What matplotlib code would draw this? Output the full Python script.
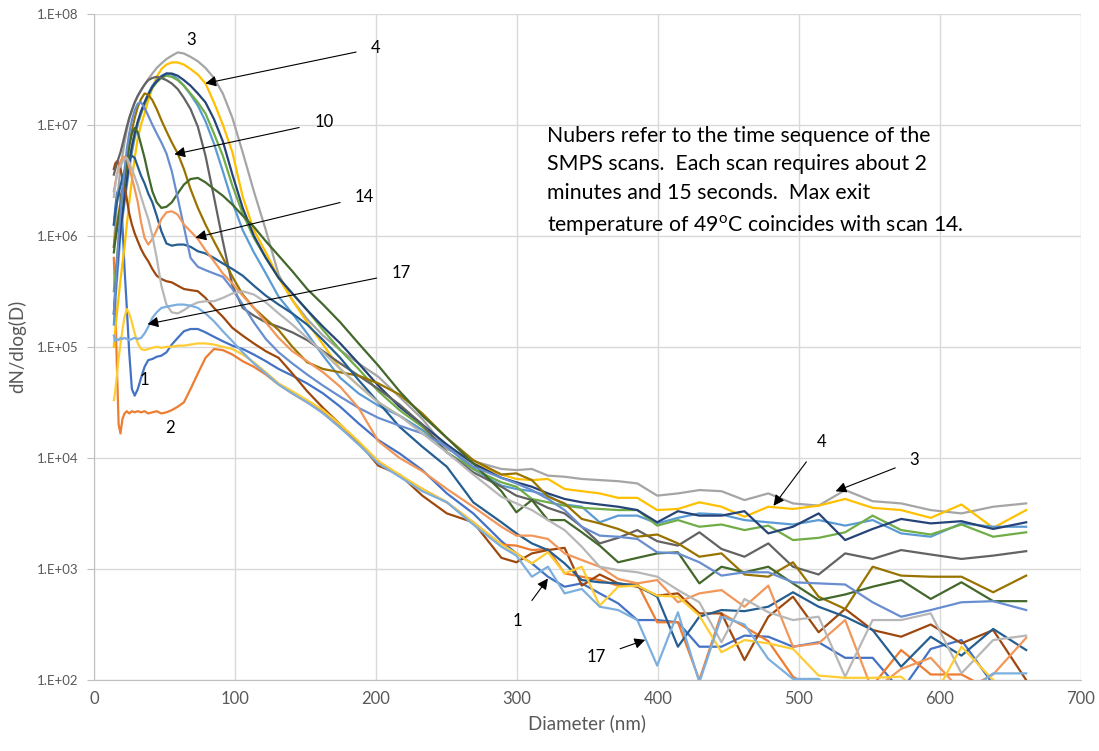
import numpy as np
import matplotlib
matplotlib.use('Agg')
import matplotlib.pyplot as plt
from matplotlib.ticker import FixedLocator, FuncFormatter, NullLocator

plt.rcParams['font.family'] = ['Lato', 'DejaVu Sans']
plt.rcParams['mathtext.fontset'] = 'custom'
plt.rcParams['mathtext.rm'] = 'Lato'

# SMPS channel mid-points (nm)
diameter = [14.1, 15.1, 16.3, 17.5, 18.8, 20.2, 21.7, 23.3, 25.0, 26.9, 28.9, 31.1, 33.4, 35.9, 38.5,
            41.4, 44.5, 47.8, 51.4, 55.2, 59.4, 63.8, 68.5, 73.7, 79.1, 85.1, 91.4, 98.2, 105.5, 113.4,
            121.9, 131.0, 140.7, 151.2, 162.5, 174.7, 187.7, 201.7, 216.7, 232.9, 250.3, 269.0, 289.0,
            299.6, 310.6, 322.0, 333.8, 346.0, 358.7, 371.8, 385.4, 399.5, 414.2, 429.4, 445.1, 461.4,
            478.3, 495.8, 514.0, 532.8, 552.3, 572.5, 593.5, 615.3, 637.8, 661.2]

# log10(dN/dlogD) for each scan
scan01 = [6.10, 6.25, 6.38, 6.42, 6.35, 6.10, 5.70, 5.35, 4.95, 4.62, 4.56, 4.62, 4.72, 4.82, 4.88, 4.89,
          4.91, 4.92, 4.95, 5.02, 5.08, 5.14, 5.16, 5.16, 5.13, 5.09, 5.05, 5.01, 4.98, 4.93, 4.87,
          4.80, 4.74, 4.67, 4.58, 4.46, 4.31, 4.16, 4.04, 3.89, 3.68, 3.50, 3.25,
          3.14, 3.05, 2.93, 2.84, 2.87, 2.78, 2.69, 2.54, 2.54, 2.52, 2.30, 2.30, 2.40, 2.39, 2.30, 2.34,
          2.20, 2.20, 1.90, 2.28, 2.36, 1.96, 1.80]
scan02 = [5.80, 5.40, 4.80, 4.30, 4.22, 4.35, 4.40, 4.42, 4.40, 4.42, 4.41, 4.42, 4.41, 4.42, 4.40, 4.41,
          4.42, 4.40, 4.41, 4.43, 4.46, 4.50, 4.62, 4.76, 4.90, 4.98, 4.97, 4.93, 4.87, 4.82, 4.75,
          4.66, 4.58, 4.50, 4.42, 4.29, 4.14, 3.97, 3.84, 3.72, 3.60, 3.42, 3.22,
          3.21, 3.17, 3.18, 2.96, 2.93, 2.90, 2.85, 2.87, 2.52, 2.52, 2.00, 2.60, 2.48, 2.35, 2.03, 1.90,
          1.90, 1.95, 2.27, 2.05, 2.05, 1.90, 1.90]
scan03 = [5.90, 6.10, 6.30, 6.45, 6.60, 6.72, 6.84, 6.95, 7.05, 7.13, 7.20, 7.26, 7.31, 7.36, 7.41, 7.46,
          7.51, 7.55, 7.59, 7.62, 7.65, 7.64, 7.61, 7.57, 7.51, 7.42, 7.28, 7.06, 6.75, 6.40, 6.05,
          5.65, 5.42, 5.25, 5.10, 4.97, 4.85, 4.73, 4.55, 4.35, 4.08, 3.97, 3.90,
          3.89, 3.90, 3.84, 3.83, 3.81, 3.80, 3.79, 3.77, 3.66, 3.68, 3.71, 3.70, 3.62, 3.68, 3.59, 3.57,
          3.71, 3.61, 3.59, 3.53, 3.50, 3.56, 3.59]
scan04 = [5.00, 5.15, 5.30, 5.45, 5.60, 5.75, 5.90, 6.10, 6.30, 6.50, 6.70, 6.88, 7.00, 7.10, 7.22, 7.33,
          7.43, 7.50, 7.54, 7.56, 7.56, 7.54, 7.50, 7.45, 7.37, 7.20, 7.00, 6.75, 6.35, 6.05, 5.85,
          5.62, 5.42, 5.22, 5.02, 4.80, 4.65, 4.50, 4.38, 4.25, 4.10, 3.95, 3.85,
          3.81, 3.80, 3.81, 3.72, 3.70, 3.68, 3.64, 3.64, 3.53, 3.54, 3.60, 3.56, 3.47, 3.56, 3.54, 3.57,
          3.63, 3.55, 3.53, 3.46, 3.58, 3.37, 3.53]
scan05 = [5.20, 5.40, 5.60, 5.80, 6.00, 6.15, 6.30, 6.45, 6.60, 6.75, 6.88, 7.00, 7.10, 7.20, 7.28, 7.35,
          7.40, 7.44, 7.46, 7.45, 7.41, 7.35, 7.27, 7.17, 7.03, 6.83, 6.58, 6.30, 6.05, 5.85, 5.66,
          5.45, 5.30, 5.12, 4.92, 4.72, 4.58, 4.47, 4.38, 4.25, 4.10, 3.90, 3.75,
          3.72, 3.70, 3.66, 3.58, 3.56, 3.42, 3.48, 3.48, 3.41, 3.46, 3.50, 3.49, 3.44, 3.42, 3.40, 3.44,
          3.39, 3.44, 3.32, 3.29, 3.41, 3.38, 3.38]
scan06 = [5.50, 5.65, 5.80, 5.95, 6.10, 6.25, 6.40, 6.55, 6.68, 6.80, 6.92, 7.02, 7.10, 7.18, 7.26, 7.33,
          7.38, 7.42, 7.44, 7.43, 7.40, 7.35, 7.28, 7.20, 7.10, 6.92, 6.72, 6.45, 6.20, 5.98, 5.80,
          5.62, 5.48, 5.33, 5.15, 4.97, 4.80, 4.60, 4.43, 4.28, 4.05, 3.90, 3.78,
          3.74, 3.63, 3.60, 3.57, 3.55, 3.54, 3.53, 3.53, 3.39, 3.44, 3.38, 3.40, 3.35, 3.39, 3.26, 3.28,
          3.33, 3.48, 3.35, 3.31, 3.40, 3.29, 3.33]
scan07 = [5.30, 5.50, 5.70, 5.90, 6.05, 6.20, 6.35, 6.50, 6.65, 6.80, 6.92, 7.03, 7.12, 7.20, 7.27, 7.34,
          7.39, 7.43, 7.46, 7.46, 7.44, 7.40, 7.35, 7.28, 7.20, 7.05, 6.85, 6.55, 6.25, 6.00, 5.80,
          5.62, 5.48, 5.33, 5.18, 5.03, 4.85, 4.65, 4.46, 4.30, 4.12, 3.95, 3.82,
          3.78, 3.74, 3.68, 3.63, 3.60, 3.58, 3.56, 3.53, 3.42, 3.52, 3.48, 3.48, 3.52, 3.32, 3.38, 3.50,
          3.26, 3.36, 3.45, 3.41, 3.43, 3.36, 3.42]
scan08 = [6.60, 6.65, 6.67, 6.65, 6.60, 6.52, 6.45, 6.33, 6.20, 6.10, 6.02, 5.95, 5.88, 5.82, 5.77, 5.70,
          5.64, 5.61, 5.59, 5.58, 5.55, 5.52, 5.51, 5.50, 5.44, 5.35, 5.27, 5.17, 5.10, 5.03, 4.96,
          4.90, 4.76, 4.60, 4.45, 4.30, 4.14, 3.93, 3.85, 3.66, 3.50, 3.42, 3.10,
          3.06, 3.14, 3.17, 3.19, 2.85, 2.95, 2.87, 2.84, 2.76, 2.78, 2.60, 2.60, 2.18, 2.57, 2.75, 2.43,
          2.64, 2.45, 2.39, 2.50, 2.33, 2.45, 2.00]
scan09 = [6.55, 6.60, 6.65, 6.70, 6.75, 6.82, 6.90, 6.98, 7.06, 7.13, 7.20, 7.26, 7.31, 7.36, 7.40, 7.42,
          7.43, 7.42, 7.40, 7.37, 7.32, 7.24, 7.14, 6.98, 6.72, 6.35, 5.95, 5.55, 5.35, 5.28, 5.22,
          5.18, 5.13, 5.06, 4.96, 4.85, 4.74, 4.62, 4.48, 4.30, 4.05, 3.87, 3.74,
          3.66, 3.62, 3.55, 3.50, 3.38, 3.23, 3.28, 3.35, 3.25, 3.21, 3.33, 3.18, 3.11, 3.23, 3.02, 2.95,
          3.14, 3.09, 3.17, 3.13, 3.09, 3.12, 3.16]
scan10 = [5.90, 6.00, 6.10, 6.20, 6.30, 6.42, 6.55, 6.68, 6.82, 6.95, 7.06, 7.16, 7.23, 7.28, 7.27, 7.22,
          7.14, 7.04, 6.94, 6.84, 6.74, 6.60, 6.42, 6.25, 6.10, 5.95, 5.80, 5.63, 5.47, 5.35, 5.25,
          5.15, 5.00, 4.86, 4.80, 4.77, 4.74, 4.67, 4.57, 4.40, 4.18, 3.98, 3.85,
          3.86, 3.80, 3.65, 3.59, 3.45, 3.41, 3.36, 3.29, 3.31, 3.23, 3.11, 3.14, 2.95, 2.93, 3.06, 2.75,
          2.64, 3.02, 2.94, 2.93, 2.93, 2.79, 2.94]
scan11 = [6.10, 6.20, 6.30, 6.38, 6.45, 6.52, 6.58, 6.64, 6.69, 6.72, 6.70, 6.62, 6.54, 6.47, 6.38, 6.30,
          6.18, 6.04, 5.93, 5.91, 5.92, 5.92, 5.90, 5.86, 5.84, 5.80, 5.75, 5.70, 5.64, 5.55, 5.46,
          5.38, 5.30, 5.20, 5.06, 4.90, 4.70, 4.50, 4.28, 4.10, 3.92, 3.60, 3.42,
          3.32, 3.23, 3.17, 3.05, 2.90, 2.88, 2.87, 2.85, 2.75, 2.30, 2.57, 2.63, 2.62, 2.66, 2.79, 2.66,
          2.57, 2.45, 2.12, 2.39, 2.22, 2.46, 2.27]
scan12 = [5.85, 5.95, 6.05, 6.15, 6.25, 6.38, 6.50, 6.65, 6.80, 6.92, 6.97, 6.93, 6.82, 6.70, 6.55, 6.40,
          6.30, 6.25, 6.26, 6.30, 6.38, 6.46, 6.51, 6.52, 6.48, 6.42, 6.36, 6.28, 6.18, 6.08, 5.95,
          5.82, 5.68, 5.52, 5.38, 5.22, 5.03, 4.83, 4.60, 4.38, 4.18, 3.95, 3.70,
          3.51, 3.62, 3.44, 3.44, 3.33, 3.21, 3.06, 3.10, 3.14, 3.15, 2.87, 3.02, 2.97, 3.02, 2.87, 2.72,
          2.77, 2.84, 2.90, 2.73, 2.88, 2.71, 2.71]
scan13 = [5.30, 5.50, 5.75, 6.00, 6.20, 6.40, 6.60, 6.78, 6.92, 7.04, 7.13, 7.19, 7.20, 7.15, 7.08, 7.00,
          6.92, 6.84, 6.74, 6.58, 6.34, 6.08, 5.80, 5.72, 5.69, 5.66, 5.63, 5.52, 5.38, 5.22, 5.07,
          4.95, 4.85, 4.75, 4.65, 4.55, 4.45, 4.36, 4.29, 4.22, 4.10, 3.92, 3.82,
          3.77, 3.71, 3.63, 3.53, 3.38, 3.30, 3.29, 3.27, 3.15, 3.14, 3.06, 2.94, 2.97, 2.97, 2.88, 2.87,
          2.86, 2.70, 2.57, 2.63, 2.70, 2.71, 2.63]
scan14 = [6.40, 6.47, 6.55, 6.62, 6.67, 6.70, 6.71, 6.70, 6.62, 6.52, 6.42, 6.30, 6.12, 5.98, 5.92, 5.97,
          6.05, 6.15, 6.21, 6.22, 6.19, 6.10, 6.04, 5.97, 5.87, 5.77, 5.66, 5.57, 5.46, 5.35, 5.22,
          5.08, 4.96, 4.87, 4.77, 4.64, 4.45, 4.15, 4.00, 3.88, 3.72, 3.56, 3.38,
          3.30, 3.30, 3.27, 3.14, 3.08, 3.02, 2.91, 2.87, 2.90, 2.70, 2.78, 2.81, 2.66, 2.85, 2.30, 2.33,
          2.54, 1.90, 2.10, 2.20, 1.90, 2.05, 2.38]
scan15 = [6.35, 6.45, 6.55, 6.60, 6.63, 6.66, 6.69, 6.70, 6.66, 6.60, 6.53, 6.45, 6.35, 6.25, 6.15, 6.00,
          5.80, 5.55, 5.38, 5.31, 5.30, 5.33, 5.37, 5.40, 5.41, 5.41, 5.44, 5.48, 5.50, 5.47, 5.40,
          5.30, 5.20, 5.08, 4.95, 4.80, 4.65, 4.50, 4.38, 4.22, 4.05, 3.85, 3.65,
          3.59, 3.53, 3.44, 3.35, 3.20, 3.02, 2.99, 2.97, 2.93, 2.81, 2.70, 2.34, 2.73, 2.61, 2.54, 2.57,
          2.03, 2.54, 2.54, 2.60, 2.06, 2.36, 2.40]
scan16 = [4.52, 4.60, 4.75, 4.90, 5.02, 5.15, 5.27, 5.34, 5.30, 5.22, 5.12, 5.03, 4.98, 4.97, 4.98, 4.99,
          5.00, 4.99, 5.00, 5.00, 5.01, 5.01, 5.02, 5.03, 5.03, 5.02, 5.00, 4.98, 4.93, 4.86, 4.77,
          4.67, 4.60, 4.52, 4.43, 4.30, 4.15, 3.97, 3.85, 3.72, 3.60, 3.42, 3.22,
          3.14, 3.05, 3.15, 2.96, 3.02, 2.67, 2.84, 2.85, 2.76, 2.75, 2.58, 2.25, 2.36, 2.33, 2.28, 2.04,
          2.02, 2.02, 2.03, 1.80, 2.30, 2.00, 1.80]
scan17 = [5.10, 5.05, 5.07, 5.06, 5.08, 5.07, 5.08, 5.07, 5.06, 5.07, 5.08, 5.07, 5.08, 5.12, 5.18, 5.26,
          5.31, 5.35, 5.36, 5.37, 5.38, 5.38, 5.37, 5.35, 5.30, 5.23, 5.14, 5.05, 4.95, 4.85, 4.76,
          4.66, 4.58, 4.50, 4.40, 4.27, 4.12, 3.95, 3.83, 3.70, 3.60, 3.40, 3.20,
          3.12, 2.93, 3.02, 2.78, 2.82, 2.66, 2.63, 2.54, 2.13, 2.61, 1.98, 2.57, 2.50, 2.19, 2.01, 2.01,
          1.80, 1.80, 1.85, 1.90, 1.85, 2.06, 2.06]

scans = [scan01, scan02, scan03, scan04, scan05, scan06, scan07, scan08, scan09,
         scan10, scan11, scan12, scan13, scan14, scan15, scan16, scan17]

# Excel default series palette
colors = ['#4472C4', '#ED7D31', '#A5A5A5', '#FFC000', '#5B9BD5', '#70AD47',
          '#264478', '#9E480E', '#636363', '#997300', '#255E91', '#43682B',
          '#698ED0', '#F1975A', '#B7B7B7', '#FFCD33', '#7CAFDD']

# (label, text x, text y, arrow tip x, arrow tip y) -- tip None = no arrow
notes = [('3', 69, 5.8e7, None, None),
         ('4', 200, 4.9e7, 79, 2.35e7),
         ('10', 163, 1.05e7, 57, 5.4e6),
         ('14', 192, 2.25e6, 72, 9.6e5),
         ('17', 218, 4.6e5, 38, 1.6e5),
         ('1', 36, 5.0e4, None, None),
         ('2', 54, 1.85e4, None, None),
         ('1', 300, 3.4e2, 322, 8.2e2),
         ('17', 356, 1.6e2, 391, 2.3e2),
         ('4', 516, 1.4e4, 482, 3.7e3),
         ('3', 582, 9.5e3, 526, 5.0e3)]

note_text = ("Nubers refer to the time sequence of the\n"
             "SMPS scans.  Each scan requires about 2\n"
             "minutes and 15 seconds.  Max exit\n"
             "temperature of 49$^{\\mathrm{o}}$C coincides with scan 14.")

fig = plt.figure(figsize=(10.99, 7.51), dpi=100)
ax = fig.add_axes([0.0855, 0.0945, 0.898, 0.8875])

x = np.array(diameter)
for vals, c in zip(scans, colors):
    ax.plot(x, 10 ** np.array(vals), color=c, lw=1.6, solid_joinstyle='round')

ax.set_yscale('log')
ax.set_xlim(0, 700)
ax.set_ylim(1e2, 1e8)
ax.xaxis.set_major_locator(FixedLocator(range(0, 701, 100)))
ax.yaxis.set_major_locator(FixedLocator([10.0 ** k for k in range(2, 9)]))
ax.yaxis.set_minor_locator(NullLocator())
ax.yaxis.set_major_formatter(FuncFormatter(lambda v, p: '1.E+%02d' % int(round(np.log10(v)))))

ax.grid(True, color='#D9D9D9', lw=1.0)
ax.set_axisbelow(True)
for s in ['top', 'right']:
    ax.spines[s].set_visible(False)
for s in ['left', 'bottom']:
    ax.spines[s].set_color('#BFBFBF')
ax.tick_params(axis='y', colors='#595959', labelsize=9.5, length=5, width=0.8, color='#BFBFBF', pad=6)
ax.tick_params(axis='x', colors='#595959', labelsize=12, length=0, pad=8)
ax.set_xlabel('Diameter (nm)', fontsize=13.5, color='#595959', labelpad=5)
ax.set_ylabel('dN/dlog(D)', fontsize=13.5, color='#595959', labelpad=8)

for lab, tx, ty, hx, hy in notes:
    if hx is None:
        ax.text(tx, ty, lab, fontsize=12, ha='center', va='center', color='black')
    else:
        ax.annotate(lab, xy=(hx, hy), xytext=(tx, ty), fontsize=12, ha='center', va='center',
                    color='black',
                    arrowprops=dict(arrowstyle='-|>', color='black', lw=0.8,
                                    mutation_scale=16, shrinkA=9, shrinkB=0))

ax.text(321, 9.8e6, note_text, fontsize=15.3, ha='left', va='top', linespacing=1.55, color='black')

fig.savefig('out.png', dpi=100)
